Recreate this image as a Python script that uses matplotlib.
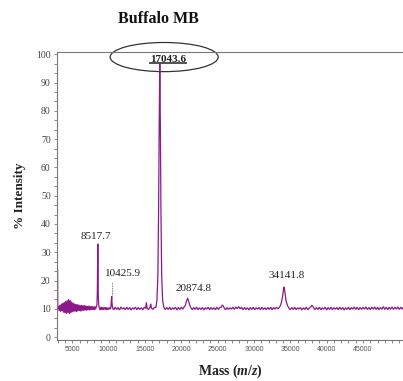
import numpy as np
import matplotlib
matplotlib.use("Agg")
import matplotlib.pyplot as plt
from matplotlib.patches import Ellipse
from matplotlib.ticker import MultipleLocator
from matplotlib.lines import Line2D

plt.rcParams["mathtext.fontset"] = "custom"
plt.rcParams["mathtext.it"] = "Liberation Serif:italic:bold"
plt.rcParams["mathtext.rm"] = "Liberation Serif:bold"
plt.rcParams["mathtext.bf"] = "Liberation Serif:bold"

# ---------------- data ----------------
# start of spectrum + noisy low-mass region
mass_a = [2950, 2970, 3000] + list(range(3100, 8400, 100))
int_a = [0, 24, 10.2,
         11.0, 9.3, 11.4, 9.0, 11.8, 9.2, 12.1, 8.7, 12.4, 8.5,
         12.8, 8.3, 13.0, 8.6, 13.4, 8.2, 13.1, 8.5, 12.6, 8.8,
         12.2, 9.0, 11.9, 9.1, 11.7, 8.9, 11.6, 9.2, 11.5, 9.3,
         11.3, 9.1, 11.4, 9.4, 11.2, 9.3, 11.3, 9.5, 11.1, 9.4,
         11.0, 9.6, 11.1, 9.5, 10.9, 9.6, 11.0, 9.7, 10.8, 9.6,
         10.9, 9.8, 10.6]
# peak 8517.7
mass_p1 = [8400, 8450, 8490, 8518, 8545, 8580, 8650, 8750]
int_p1 = [11.5, 16, 27, 33.0, 25, 15, 11, 10.2]
# baseline + peak 10425.9
mass_b1 = [8850, 8950, 9050, 9150, 9250, 9350, 9450, 9550, 9650, 9750,
           9850, 9950, 10050, 10150, 10250, 10330, 10400, 10426, 10460,
           10520, 10600]
int_b1 = [9.6, 10.7, 9.7, 10.6, 9.6, 10.5, 9.8, 10.6, 9.6, 10.5,
          9.7, 10.4, 9.8, 10.5, 9.9, 11.2, 13.5, 14.5, 12.5, 10.8, 10.0]
mass_b2 = list(range(10700, 15100, 200))
int_b2 = [9.7, 10.6, 9.8, 10.5, 9.6, 10.7, 9.9, 10.4, 9.7, 10.6, 9.8,
          10.5, 9.6, 10.4, 9.9, 10.6, 9.7, 10.5, 9.8, 10.4, 9.7, 10.6]
mass_b3 = [15100, 15200, 15300, 15500, 15700, 15800, 15900, 16100, 16300]
int_b3 = [10.2, 12.3, 10.1, 9.8, 10.6, 11.8, 10.2, 9.8, 10.5]
# main peak 17043.6
mass_p2 = [16500, 16650, 16780, 16880, 16960, 17044, 17120, 17200,
           17300, 17430, 17600]
int_p2 = [10.5, 13, 22, 45, 75, 97, 75, 45, 22, 13, 10.6]
mass_b4 = list(range(17800, 20500, 200))
int_b4 = [9.7, 10.5, 9.8, 10.6, 9.7, 10.4, 9.9, 10.6, 9.6, 10.5, 9.8,
          10.6, 9.9, 10.7]
# peak 20874.8
mass_p3 = [20550, 20700, 20875, 21000, 21150, 21300]
int_p3 = [11.2, 12.6, 13.8, 12.8, 11.4, 10.5]
mass_b5 = list(range(21500, 25400, 200))
int_b5 = [9.7, 10.5, 9.8, 10.6, 9.7, 10.4, 9.8, 10.5, 9.6, 10.4,
          9.9, 10.6, 9.7, 10.5, 9.8, 10.4, 9.7, 10.6, 9.8, 10.5]
mass_p4 = [25500, 25650, 25800, 25950]
int_p4 = [10.6, 11.4, 10.9, 10.1]
mass_b6 = list(range(26100, 33400, 200))
int_b6 = [9.7, 10.5, 9.8, 10.4, 9.9, 10.6, 9.8, 10.7, 10.1, 10.8,
          10.0, 10.6, 9.7, 10.5, 9.8, 10.4, 9.6, 10.5, 9.8, 10.6,
          9.7, 10.4, 9.9, 10.5, 9.7, 10.6, 9.8, 10.4, 9.7, 10.5,
          9.8, 10.6, 9.7, 10.5, 9.9, 10.6, 10.0]
# peak 34141.8
mass_p5 = [33500, 33700, 33900, 34050, 34142, 34250, 34400, 34600, 34800]
int_p5 = [10.5, 11.6, 13.8, 16.5, 17.8, 16.0, 13.0, 11.2, 10.3]
mass_b7 = list(range(35000, 37700, 200))
int_b7 = [9.7, 10.5, 9.8, 10.6, 9.7, 10.4, 9.9, 10.5, 9.6, 10.4,
          9.8, 10.6, 9.7, 10.3]
mass_p6 = [37800, 37950, 38100, 38250]
int_p6 = [10.6, 11.3, 10.9, 10.2]
mass_b8 = list(range(38400, 50700, 200))
int_b8 = [9.7, 10.5, 9.8, 10.6, 9.7, 10.4, 9.9, 10.6, 9.6, 10.5,
          9.8, 10.6, 9.7, 10.4, 9.9, 10.5, 9.7, 10.6, 9.8, 10.5,
          9.6, 10.4, 9.8, 10.6, 9.7, 10.5, 9.9, 10.7, 9.8, 10.6,
          9.7, 10.5, 9.8, 10.6, 9.9, 10.7, 9.8, 10.5, 9.7, 10.6,
          9.9, 10.7, 9.8, 10.6, 9.7, 10.5, 9.9, 10.8, 9.8, 10.6,
          9.7, 10.6, 9.9, 10.7, 9.8, 10.6, 9.9, 10.7, 9.8, 10.6,
          9.9, 10.7]

peak_masses = [8517.7, 10425.9, 17043.6, 20874.8, 34141.8]
peak_heights = [33.0, 14.5, 97.0, 13.8, 17.8]
peak_labels = ["8517.7", "10425.9", "17043.6", "20874.8", "34141.8"]

title = "Buffalo MB"
x_ticks = [5000, 10000, 15000, 20000, 25000, 30000, 35000, 40000, 45000]
y_ticks = [0, 10, 20, 30, 40, 50, 60, 70, 80, 90, 100]

mass = np.array(mass_a + mass_p1 + mass_b1 + mass_b2 + mass_b3 + mass_p2 +
                mass_b4 + mass_p3 + mass_b5 + mass_p4 + mass_b6 + mass_p5 +
                mass_b7 + mass_p6 + mass_b8, dtype=float)
inten = np.array(int_a + int_p1 + int_b1 + int_b2 + int_b3 + int_p2 +
                 int_b4 + int_p3 + int_b5 + int_p4 + int_b6 + int_p5 +
                 int_b7 + int_p6 + int_b8, dtype=float)

# ---------------- figure ----------------
serif = ["Liberation Serif", "DejaVu Serif"]
fig = plt.figure(figsize=(4.03, 3.81), dpi=100)
ax = fig.add_axes([0.1414, 0.1076, 0.8586, 0.756])

line_color = "#8a1a8a"
ax.plot(mass, inten, color=line_color, lw=0.9, solid_joinstyle="miter")

ax.set_xlim(2900, 50500)
ax.set_ylim(-1, 100.8)

ax.spines["right"].set_visible(False)
for s in ["left", "top", "bottom"]:
    ax.spines[s].set_color("#777777")
    ax.spines[s].set_linewidth(0.8)

ax.set_xticks(x_ticks)
ax.set_xticklabels([str(v) for v in x_ticks], fontsize=5, color="#555555",
                   family="Liberation Sans")
ax.xaxis.set_minor_locator(MultipleLocator(1000))
ax.set_yticks(y_ticks)
ax.set_yticklabels([str(v) for v in y_ticks], fontsize=7, color="#444444",
                   family=serif)
ax.yaxis.set_minor_locator(MultipleLocator(10 / 3))
ax.tick_params(axis="both", which="both", direction="out", color="#777777",
               width=0.6)
ax.tick_params(axis="x", which="both", length=2.5, pad=2)
ax.tick_params(axis="y", which="both", length=2.5, pad=2)

ax.set_xlabel("Mass ($\\it{m/z}$)", fontsize=10, fontweight="bold",
              family=serif, labelpad=6.5)
ax.xaxis.label.set_color("#222222")
ax.set_ylabel("% Intensity", fontsize=9.5, fontweight="bold", family=serif,
              labelpad=7)
ax.yaxis.label.set_color("#222222")
fig.text(0.392, 0.95, title, fontsize=11.5, fontweight="bold", family=serif,
         ha="center", va="center", color="#111111")

# peak labels
offsets = {"8517.7": (-300, 1.0), "10425.9": (1500, 6.3),
           "20874.8": (800, 1.7), "34141.8": (300, 2.4)}
for m, h, lab in zip(peak_masses, peak_heights, peak_labels):
    if lab == "17043.6":
        continue
    dx, dy = offsets[lab]
    ax.text(m + dx, h + dy, lab, fontsize=8, family=serif, ha="center",
            va="bottom", color="#222222")

# dotted marker above 10425.9
ax.plot([peak_masses[1], peak_masses[1]], [peak_heights[1] + 0.3, 19.5],
        ls=(0, (1, 1)), color="#555555", lw=0.6)

# main peak annotation with ellipse and underline
main_x = peak_masses[2]
t = ax.text(main_x + 1100, 98.3, "17043.6", fontsize=8, fontweight="bold",
            family=serif, ha="center", va="center", color="#222222")
ell = Ellipse((main_x + 600, 99.0), 14860, 10.3, fill=False,
              edgecolor="#333333", lw=0.9, clip_on=False)
ax.add_patch(ell)

fig.canvas.draw()
bb = t.get_window_extent(renderer=fig.canvas.get_renderer())
inv = ax.transData.inverted()
(x0, y0) = inv.transform((bb.x0, bb.y0))
(x1, _) = inv.transform((bb.x1, bb.y0))
ax.add_line(Line2D([x0, x1], [y0 + 0.1, y0 + 0.1], color="#444444",
                   lw=1.3, clip_on=False))

fig.savefig("out.png", dpi=100)
